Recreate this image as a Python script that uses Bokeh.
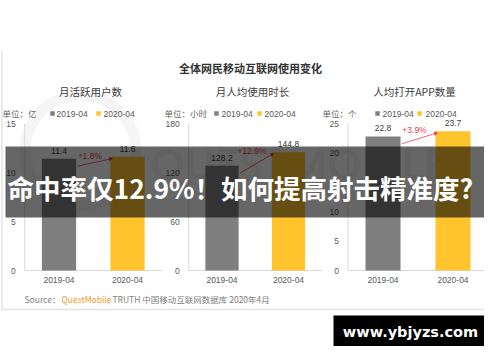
import math
from bokeh.plotting import figure
from bokeh.models import Range1d
from bokeh.core.properties import value
from bokeh.embed import file_html
from bokeh.resources import INLINE

# ---------------- data ----------------
categories = ["2019-04", "2020-04"]
chart_title = "全体网民移动互联网使用变化"
panel_titles = ["月活跃用户数", "月人均使用时长", "人均打开APP数量"]
units = ["单位：亿", "单位：小时", "单位：个"]
mau = [11.4, 11.6]
hours = [128.2, 144.8]
apps = [22.8, 23.7]
changes = ["+1.8%", "+12.9%", "+3.9%"]
ticks_mau = [0, 5, 10, 15]
ticks_hours = [0, 60, 120, 180]
ticks_apps = [0, 5, 10, 15, 20, 25]
source_parts = ["Source：", "QuestMobile", "TRUTH 中国移动互联网数据库 2020年4月"]
headline = "命中率仅12.9%！如何提高射击精准度?"
site = "www.ybjyzs.com"
watermark = "QUESTMOBILE"

# ---------------- styles / layout ----------------
bar_colors = ["#7f7f7f", "#ffc42e"]
red = "#ee3b4f"
CJK = value("Noto Sans CJK SC")
LAT = value("Liberation Sans")
W, H = 484, 346
Y0, Y1 = 270, 123
layout = [
    dict(vals=mau, ticks=ticks_mau, ax=(24.25, 161.25), tx=90, ux=2, lm=(52, 98), lt=(56, 103)),
    dict(vals=hours, ticks=ticks_hours, ax=(188.25, 321.25), tx=252, ux=164, lm=(216, 259), lt=(221, 264)),
    dict(vals=apps, ticks=ticks_apps, ax=(347.5, 487.5), tx=414, ux=322, lm=(377, 419), lt=(382, 425)),
]

p = figure(width=W, height=H, x_range=Range1d(0, W), y_range=Range1d(H, 0),
           output_backend="svg", toolbar_location=None, min_border=0,
           x_axis_type=None, y_axis_type=None)
p.outline_line_color = None
p.background_fill_color = "white"
p.border_fill_color = "white"

# faint background logo watermark
p.annulus(x=[80], y=[150], inner_radius=50, outer_radius=61, fill_color="#f5f5f5", line_color=None)
p.text(x=[150], y=[163], text=[watermark], text_font=value("Lato"), text_font_style="bold",
       text_font_size="42px", text_color="#f2f2f2", text_baseline="alphabetic")

# card border
p.segment(x0=[1.5, 1], y0=[50, 309], x1=[1.5, W], y1=[309, 309], line_color="#e3e3e3", line_width=1.5)

# titles
p.text(x=[250], y=[67], text=[chart_title], text_font=CJK, text_font_size="11px",
       text_color="#333333", text_align="center", text_baseline="middle", text_font_style="bold")

n = len(categories)
xs = [i + 0.5 for i in range(n)]
for i, L in enumerate(layout):
    vals, ticks = L["vals"], L["ticks"]
    top = ticks[-1]
    p.text(x=[L["tx"]], y=[91], text=[panel_titles[i]], text_font=CJK, text_font_size="10.5px",
           text_color="#404040", text_align="center", text_baseline="middle")
    p.text(x=[L["ux"]], y=[112], text=[units[i]], text_font=CJK, text_font_size="8.5px",
           text_color="#666666", text_align="left", text_baseline="middle")
    p.scatter(x=list(L["lm"]), y=[113] * n, marker="square", size=4.5, fill_color=bar_colors,
              line_color=None)
    p.text(x=list(L["lt"]), y=[113] * n, text=categories, text_font=LAT, text_font_size="8.5px",
           text_color="#595959", text_align="left", text_baseline="middle")

    sub = p.subplot(x_source=Range1d(0, n), y_source=Range1d(0, top),
                    x_target=Range1d(*L["ax"]), y_target=Range1d(Y0, Y1))
    # axis lines
    sub.segment(x0=[0, 0], y0=[0, 0], x1=[0, n], y1=[top, 0], line_color="#d9d9d9", line_width=1)
    sub.text(x=[0] * len(ticks), y=ticks, text=[str(t) for t in ticks], x_offset=-9,
             text_font=LAT, text_font_size="8.5px", text_color="#595959",
             text_align="right", text_baseline="middle")
    sub.text(x=xs, y=[0] * n, text=categories, y_offset=9, text_font=LAT, text_font_size="8.5px",
             text_color="#595959", text_align="center", text_baseline="middle")
    # bars
    sub.vbar(x=xs, top=vals, width=0.5, bottom=0, fill_color=bar_colors, line_color=None)
    sub.text(x=xs, y=vals, text=[str(v) for v in vals], y_offset=-8, text_font=LAT,
             text_font_size="8.5px", text_color="#404040", text_align="center", text_baseline="middle")
    # change arrow
    sx, sy = 0.77, vals[0] - 0.05 * top
    ex, ey = 1.25, vals[1] - 0.015 * top
    sub.segment(x0=[sx], y0=[sy], x1=[ex], y1=[ey], line_color=red, line_width=0.8)
    pxu = (L["ax"][1] - L["ax"][0]) / n
    pyu = (Y0 - Y1) / top
    theta = math.atan2((ey - sy) * pyu, (ex - sx) * pxu)
    sub.scatter(x=[ex], y=[ey], marker="triangle", size=4.5, angle=theta - math.pi / 2,
                fill_color=red, line_color=None)
    sub.text(x=[0.95], y=[max(vals)], text=[changes[i]], y_offset=-1, text_font=LAT,
             text_font_size="8.5px", text_color=red, text_align="center", text_baseline="middle")

# source line
p.text(x=[24, 61, 112], y=[298] * 3, text=source_parts, text_font=CJK, text_font_size="8.5px",
       text_color=["#808080", "#f39a2b", "#808080"], text_align="left", text_baseline="middle")

# overlay banner
p.quad(left=[5], right=[496], top=[146], bottom=[217], fill_color="black", fill_alpha=0.6,
       line_color=None)
p.text(x=[7], y=[187], text=[headline], text_font=CJK, text_font_style="bold",
       text_font_size="26.5px", text_color="white", text_align="left", text_baseline="middle")

# site watermark
p.quad(left=[333], right=[491], top=[315], bottom=[353], fill_color="black", line_color=None)
p.text(x=[410], y=[331], text=[site], text_font=value("DejaVu Sans"), text_font_style="bold",
       text_font_size="14.5px", text_color="white", text_align="center", text_baseline="middle")

open("out.html", "w").write(file_html(p, INLINE))
